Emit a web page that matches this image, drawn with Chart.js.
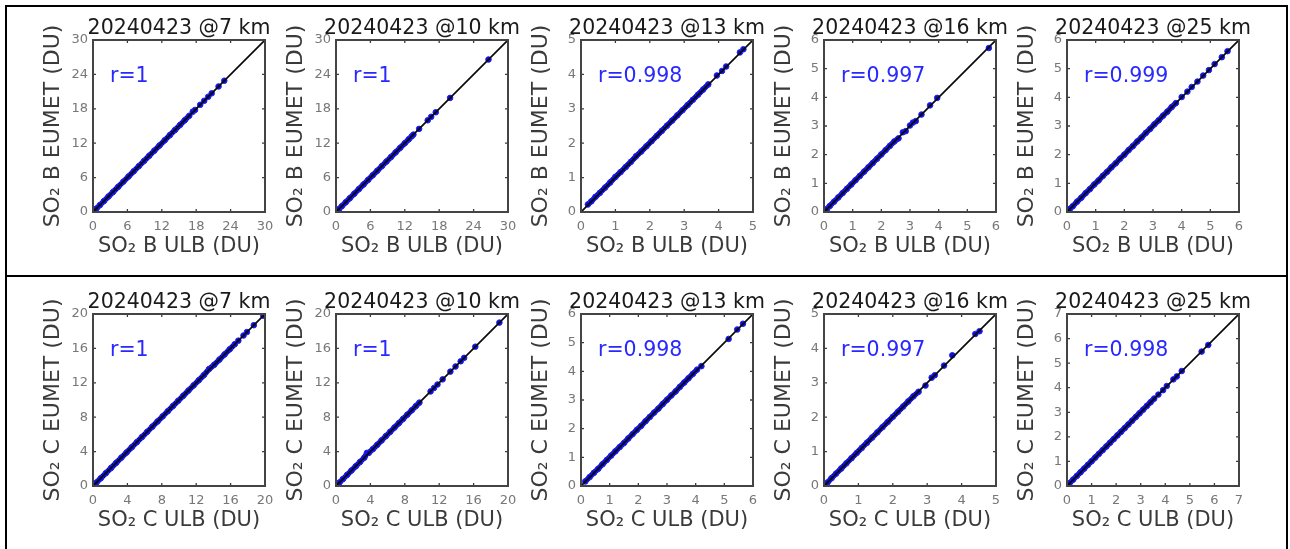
<!DOCTYPE html>
<html><head><meta charset="utf-8">
<script src="https://cdn.jsdelivr.net/npm/chart.js@4/dist/chart.umd.min.js"></script>
<style>
body{margin:0;background:#fff;width:1290px;height:549px;overflow:hidden;position:relative;}
canvas{position:absolute;}
#frame{position:absolute;left:5px;top:5px;width:1279px;height:600px;border:2px solid #000;}
#mid{position:absolute;left:5px;top:275px;width:1283px;height:2px;background:#000;}
</style>
</head><body>
<div id="frame"></div><div id="mid"></div>
<script>
// ---- data ----
const dateLabel = '20240423';
const altitudes = [7, 10, 13, 16, 25];
const rowB_max = [30, 30, 5, 6, 6];
const rowB_step = [6, 6, 1, 1, 1];
const rowB_r = ['r=1', 'r=1', 'r=0.998', 'r=0.997', 'r=0.999'];
const rowC_max = [20, 20, 6, 5, 7];
const rowC_step = [4, 4, 1, 1, 1];
const rowC_r = ['r=1', 'r=1', 'r=0.998', 'r=0.997', 'r=0.998'];
// upper end of the dense cluster in each panel
const rowB_denseEnd = [16.8, 13.2, 3.7, 2.6, 3.8];
const rowC_denseEnd = [16.5, 9.7, 4.05, 2.75, 3.55];

const b7_x = [0.2,0.6,1.2,1.9,2.7,3.5,4.4,5.3,6.2,7.1,8.0,8.9,9.8,10.7,11.6,12.5,13.4,14.3,15.2,16.0,16.8,17.4,17.8,18.7,19.4,20.1,20.7,21.9,22.9];
const b7_y = [0.2,0.6,1.2,1.9,2.7,3.5,4.4,5.3,6.2,7.1,8.0,8.9,9.8,10.7,11.6,12.5,13.4,14.3,15.2,16.0,16.8,17.5,17.8,18.7,19.4,20.1,20.7,21.9,22.9];
const b10_x = [0.1,0.5,1.0,1.7,2.4,3.2,4.0,4.8,5.6,6.4,7.2,8.0,8.8,9.6,10.4,11.2,12.0,12.7,13.2,13.5,14.5,16.0,16.6,17.4,19.9,26.6];
const b10_y = [0.1,0.5,1.0,1.7,2.4,3.2,4.0,4.8,5.6,6.4,7.2,8.0,8.8,9.6,10.4,11.2,12.0,12.7,13.2,13.5,14.5,16.0,16.6,17.4,19.9,26.6];
const b13_x = [0.2,0.3,0.42,0.55,0.7,0.85,1.0,1.15,1.3,1.45,1.6,1.75,1.9,2.05,2.2,2.35,2.5,2.65,2.8,2.95,3.1,3.25,3.4,3.55,3.7,3.95,4.1,4.22,4.62,4.72];
const b13_y = [0.22,0.31,0.44,0.56,0.71,0.86,1.02,1.16,1.31,1.46,1.62,1.76,1.91,2.06,2.21,2.36,2.51,2.66,2.81,2.96,3.11,3.26,3.41,3.56,3.71,3.97,4.1,4.23,4.64,4.73];
const b16_x = [0.1,0.2,0.35,0.5,0.65,0.8,0.95,1.1,1.25,1.4,1.55,1.7,1.85,2.0,2.15,2.3,2.45,2.6,2.75,2.85,3.0,3.1,3.2,3.4,3.7,3.95,5.75];
const b16_y = [0.1,0.21,0.36,0.51,0.66,0.81,0.96,1.11,1.26,1.41,1.56,1.71,1.86,2.01,2.16,2.31,2.46,2.57,2.78,2.82,3.02,3.12,3.17,3.4,3.72,3.98,5.72];
const b25_x = [0.1,0.2,0.35,0.5,0.65,0.8,0.95,1.1,1.25,1.4,1.55,1.7,1.85,2.0,2.15,2.3,2.45,2.6,2.75,2.9,3.05,3.2,3.35,3.5,3.65,3.8,4.0,4.2,4.35,4.55,4.75,4.95,5.15,5.4,5.6];
const b25_y = [0.11,0.2,0.36,0.5,0.66,0.8,0.96,1.1,1.26,1.4,1.56,1.7,1.86,2.0,2.16,2.3,2.46,2.6,2.76,2.9,3.06,3.2,3.36,3.5,3.66,3.8,4.01,4.2,4.36,4.55,4.76,4.95,5.16,5.4,5.61];
const c7_x = [0.1,0.4,0.9,1.5,2.1,2.7,3.3,3.9,4.5,5.1,5.7,6.3,6.9,7.5,8.1,8.7,9.3,9.9,10.5,11.1,11.7,12.3,12.9,13.5,14.1,14.7,15.3,15.9,16.5,16.9,17.5,17.9,18.7,19.8];
const c7_y = [0.1,0.4,0.9,1.5,2.1,2.7,3.3,3.9,4.5,5.1,5.7,6.3,6.9,7.5,8.1,8.7,9.3,9.9,10.5,11.1,11.7,12.3,12.9,13.6,14.1,14.7,15.3,15.9,16.5,16.9,17.5,17.9,18.7,19.8];
const c10_x = [0.1,0.4,0.8,1.3,1.8,2.3,2.8,3.3,3.6,3.8,4.3,4.8,5.3,5.8,6.3,6.8,7.3,7.8,8.3,8.8,9.3,9.7,11.0,11.4,11.8,12.4,13.3,13.9,14.5,14.9,16.2,19.0];
const c10_y = [0.1,0.4,0.8,1.3,1.8,2.3,2.8,3.3,3.85,3.85,4.3,4.8,5.3,5.8,6.3,6.8,7.3,7.8,8.3,8.8,9.3,9.7,11.0,11.4,11.8,12.4,13.3,13.9,14.5,14.9,16.2,19.0];
const c13_x = [0.15,0.3,0.45,0.6,0.75,0.9,1.05,1.2,1.35,1.5,1.65,1.8,1.95,2.1,2.25,2.4,2.55,2.7,2.85,3.0,3.15,3.3,3.45,3.6,3.75,3.9,4.05,4.2,5.15,5.45,5.65];
const c13_y = [0.16,0.31,0.46,0.6,0.76,0.91,1.06,1.21,1.36,1.5,1.66,1.81,1.96,2.1,2.26,2.41,2.56,2.7,2.86,3.01,3.16,3.3,3.46,3.61,3.76,3.91,4.06,4.18,5.13,5.46,5.66];
const c16_x = [0.1,0.22,0.35,0.5,0.65,0.8,0.95,1.1,1.25,1.4,1.55,1.7,1.85,2.0,2.15,2.3,2.45,2.6,2.75,2.95,3.13,3.22,3.49,3.73,4.4,4.52];
const c16_y = [0.1,0.23,0.36,0.51,0.66,0.81,0.96,1.11,1.26,1.41,1.56,1.71,1.86,2.01,2.16,2.31,2.46,2.61,2.74,2.92,3.15,3.22,3.5,3.8,4.42,4.5];
const c25_x = [0.1,0.25,0.4,0.55,0.7,0.85,1.0,1.15,1.3,1.45,1.6,1.75,1.9,2.05,2.2,2.35,2.5,2.65,2.8,2.95,3.1,3.25,3.4,3.55,3.72,3.91,4.06,4.33,4.47,4.67,5.48,5.75];
const c25_y = [0.11,0.26,0.41,0.56,0.71,0.86,1.01,1.16,1.31,1.46,1.61,1.76,1.91,2.06,2.21,2.36,2.51,2.66,2.81,2.96,3.11,3.26,3.41,3.56,3.72,3.9,4.07,4.34,4.46,4.68,5.47,5.74];

const rowB_xs = [b7_x, b10_x, b13_x, b16_x, b25_x];
const rowB_ys = [b7_y, b10_y, b13_y, b16_y, b25_y];
const rowC_xs = [c7_x, c10_x, c13_x, c16_x, c25_x];
const rowC_ys = [c7_y, c10_y, c13_y, c16_y, c25_y];

// ---- layout ----
const plotLefts = [93, 336, 581, 824, 1067];
const rowTops = [0, 274];
const FONT = "'DejaVu Sans', 'Liberation Sans', sans-serif";

const extrasPlugin = {
  id: 'extras',
  afterDraw(chart, args, opts) {
    const {ctx, chartArea: a, scales} = chart;
    ctx.save();
    ctx.strokeStyle = '#3c3c3c';
    ctx.lineWidth = 1.3;
    const tl = 3;
    scales.x.ticks.forEach(t => {
      const px = scales.x.getPixelForValue(t.value);
      ctx.beginPath();
      ctx.moveTo(px, a.bottom); ctx.lineTo(px, a.bottom - tl);
      ctx.moveTo(px, a.top); ctx.lineTo(px, a.top + tl);
      ctx.stroke();
    });
    scales.y.ticks.forEach(t => {
      const py = scales.y.getPixelForValue(t.value);
      ctx.beginPath();
      ctx.moveTo(a.left, py); ctx.lineTo(a.left + tl, py);
      ctx.moveTo(a.right, py); ctx.lineTo(a.right - tl, py);
      ctx.stroke();
    });
    ctx.strokeStyle = '#444';
    ctx.lineWidth = 2;
    ctx.strokeRect(a.left, a.top, a.right - a.left, a.bottom - a.top);
    ctx.fillStyle = 'rgb(40,40,255)';
    ctx.font = '20.5px ' + FONT;
    ctx.textAlign = 'left';
    ctx.textBaseline = 'middle';
    ctx.fillText(opts.rText, a.left + 17, a.top + 37);
    ctx.restore();
  }
};

function makePanel(row, col, xs, ys, maxV, step, rText, denseEnd, letter) {
  const cv = document.createElement('canvas');
  cv.width = 352; cv.height = 265;
  cv.style.left = (plotLefts[col] - 90) + 'px';
  cv.style.top = rowTops[row] + 'px';
  document.body.appendChild(cv);
  const pts = xs.map((x, i) => ({x: x, y: ys[i]}));
  new Chart(cv, {
    type: 'scatter',
    data: {
      datasets: [
        {
          type: 'line',
          data: [{x: 0, y: 0}, {x: maxV, y: maxV}],
          borderColor: '#0a0a0a', borderWidth: 1.7, pointRadius: 0, fill: false
        },
        {
          type: 'line',
          data: pts,
          showLine: true,
          borderColor: '#0808b8',
          borderWidth: 5.5,
          pointRadius: 2.8,
          pointBackgroundColor: '#1010c0',
          pointBorderColor: '#2020ff',
          pointBorderWidth: 1,
          fill: false,
          segment: {
            borderColor: c => (c.p1.parsed.x > denseEnd ? 'rgba(0,0,0,0)' : undefined)
          }
        }
      ]
    },
    options: {
      responsive: false,
      animation: false,
      devicePixelRatio: 1,
      layout: {padding: {left: 0, right: 0, top: 0, bottom: 3}},
      plugins: {
        legend: {display: false},
        tooltip: {enabled: false},
        title: {
          display: true,
          text: dateLabel + ' @' + altitudes[col] + ' km',
          color: '#1a1a1a',
          font: {family: FONT, size: 20.5, weight: 'normal', lineHeight: 1},
          padding: {top: 18, bottom: 1.5}
        },
        extras: {rText: rText}
      },
      scales: {
        x: {
          type: 'linear', min: 0, max: maxV,
          grid: {display: false, drawTicks: false},
          border: {display: false},
          ticks: {stepSize: step, color: '#777', font: {family: FONT, size: 13}, padding: 7, maxRotation: 0},
          title: {display: true, text: 'SO\u2082 ' + letter + ' ULB (DU)', color: '#3a3a3a',
                  font: {family: FONT, size: 21, lineHeight: 1.2}, padding: {top: 0, bottom: 2.9}},
          afterFit: s => { s.height = 50; }
        },
        y: {
          type: 'linear', min: 0, max: maxV,
          grid: {display: false, drawTicks: false},
          border: {display: false},
          ticks: {stepSize: step, color: '#777', font: {family: FONT, size: 13}, padding: 5},
          title: {display: true, text: 'SO\u2082 ' + letter + ' EUMET (DU)', color: '#3a3a3a',
                  font: {family: FONT, size: 22, lineHeight: 1.2}, padding: {top: 36.8, bottom: 0}},
          afterFit: s => { s.width = 90; }
        },
        yRight: {
          type: 'linear', position: 'right', min: 0, max: maxV,
          grid: {display: false, drawTicks: false},
          border: {display: false},
          ticks: {display: false},
          afterFit: s => { s.width = 90; }
        }
      }
    },
    plugins: [extrasPlugin]
  });
}

for (let c = 0; c < 5; c++) {
  makePanel(0, c, rowB_xs[c], rowB_ys[c], rowB_max[c], rowB_step[c], rowB_r[c], rowB_denseEnd[c], 'B');
  makePanel(1, c, rowC_xs[c], rowC_ys[c], rowC_max[c], rowC_step[c], rowC_r[c], rowC_denseEnd[c], 'C');
}
</script>
</body></html>
